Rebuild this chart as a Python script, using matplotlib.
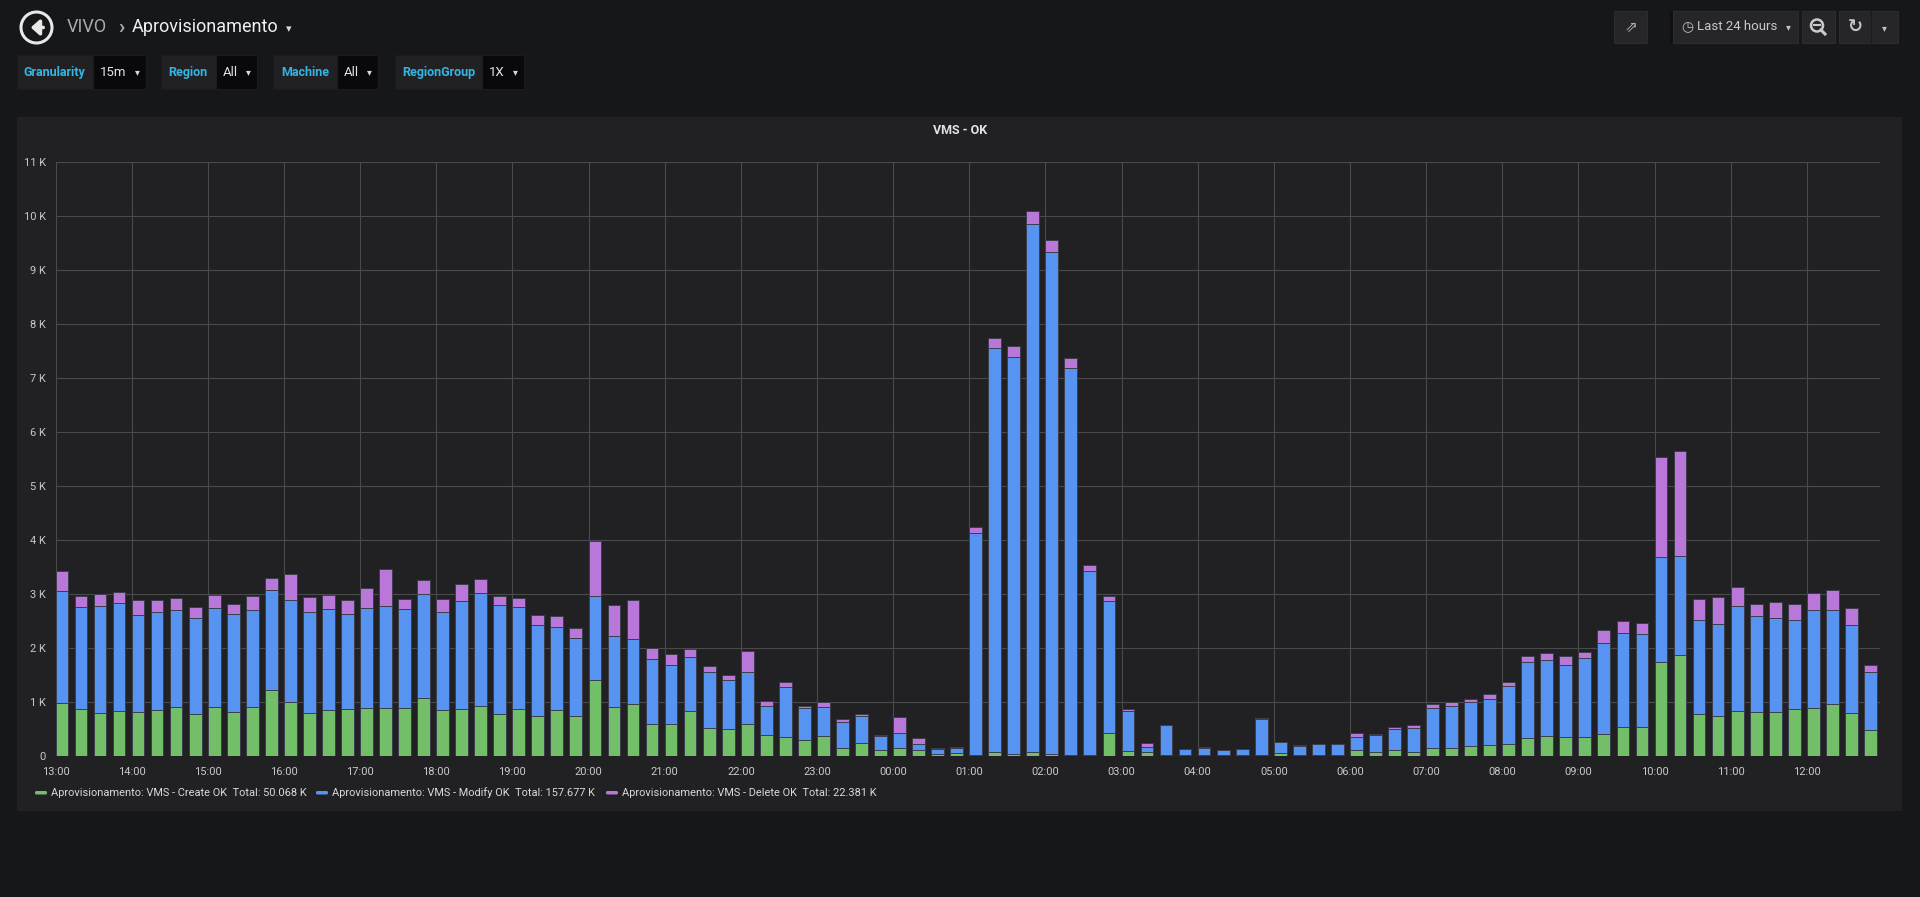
import numpy as np
import matplotlib
matplotlib.use("Agg")
import matplotlib.pyplot as plt
from matplotlib.patches import Rectangle, Circle, FancyBboxPatch

plt.rcParams['font.family'] = ['Roboto', 'DejaVu Sans']

# ---------------- data (values per 15 min bucket) ----------------
hour_labels = ["13:00", "14:00", "15:00", "16:00", "17:00", "18:00", "19:00", "20:00",
               "21:00", "22:00", "23:00", "00:00", "01:00", "02:00", "03:00", "04:00",
               "05:00", "06:00", "07:00", "08:00", "09:00", "10:00", "11:00", "12:00"]

create_ok = [980, 870, 790, 830, 810, 850, 910, 780, 910, 810, 910, 1210,
             990, 790, 850, 860, 880, 880, 890, 1070, 840, 870, 920, 780,
             860, 730, 840, 730, 1400, 910, 950, 590, 590, 830, 510, 490,
             590, 390, 350, 300, 360, 150, 240, 110, 140, 110, 30, 50,
             20, 60, 30, 70, 40, 20, 10, 430, 80, 70, 20, 20,
             20, 20, 10, 20, 50, 20, 20, 20, 110, 60, 110, 70,
             150, 150, 180, 200, 220, 330, 370, 350, 350, 410, 540, 540,
             1740, 1860, 770, 740, 830, 810, 810, 870, 890, 960, 800, 470]

modify_ok = [2080, 1880, 1990, 2000, 1800, 1810, 1790, 1780, 1830, 1820, 1790, 1860,
             1900, 1880, 1870, 1760, 1850, 1890, 1830, 1930, 1820, 2000, 2090, 2010,
             1890, 1690, 1540, 1460, 1560, 1300, 1220, 1200, 1090, 1000, 1050, 920,
             970, 530, 930, 580, 540, 480, 490, 250, 290, 100, 100, 100,
             4110, 7490, 7360, 9780, 9290, 7160, 3420, 2440, 750, 90, 540, 100,
             130, 80, 110, 660, 200, 160, 200, 200, 230, 320, 380, 450,
             740, 780, 810, 850, 1080, 1400, 1410, 1340, 1460, 1680, 1740, 1710,
             1950, 1840, 1750, 1710, 1950, 1780, 1740, 1650, 1810, 1740, 1630, 1080]

delete_ok = [360, 210, 210, 210, 280, 220, 220, 200, 240, 180, 260, 230,
             480, 280, 260, 270, 380, 690, 190, 260, 250, 320, 260, 170,
             180, 190, 210, 180, 1020, 590, 720, 210, 210, 140, 100, 80,
             380, 100, 80, 50, 90, 50, 40, 20, 280, 110, 10, 10,
             110, 200, 210, 250, 230, 190, 110, 90, 30, 70, 10, 10,
             10, 10, 5, 10, 10, 10, 5, 5, 90, 30, 50, 40,
             60, 60, 70, 100, 70, 120, 130, 160, 120, 240, 210, 210,
             1850, 1940, 390, 490, 340, 220, 300, 300, 320, 380, 310, 140]

series_names = ["Aprovisionamento: VMS - Create OK",
                "Aprovisionamento: VMS - Modify OK",
                "Aprovisionamento: VMS - Delete OK"]
series_totals = ["50.068 K", "157.677 K", "22.381 K"]
series_colors = ["#73bf69", "#5794f2", "#b877d9"]

y_ticks = list(range(0, 11001, 1000))

# ---------------- figure ----------------
W, H = 1920, 897
fig = plt.figure(figsize=(W / 100, H / 100), dpi=100, facecolor="#161719")

bg = fig.add_axes([0, 0, 1, 1], zorder=0)
bg.set_xlim(0, W)
bg.set_ylim(H, 0)
bg.axis("off")

# panel
bg.add_patch(Rectangle((17, 117), 1885, 694, facecolor="#212124", edgecolor="none"))
bg.text(960, 130, "VMS - OK", color="#e3e3e3", fontsize=9, fontweight="bold",
        ha="center", va="center")

# header: back button + breadcrumb
bg.add_patch(Circle((36.5, 27.5), 15.5, facecolor="none", edgecolor="#e8e8e8", lw=2.2))
bg.annotate("", xy=(28, 27.5), xytext=(46, 27.5),
            arrowprops=dict(arrowstyle="-|>,head_length=0.5,head_width=0.45",
                            color="#e8e8e8", lw=2.6))
bg.text(67, 27, "VIVO", color="#a8acb2", fontsize=13, ha="left", va="center")
bg.text(118, 27, "›", color="#a8acb2", fontsize=15, ha="left", va="center", fontweight="bold")
bg.text(132, 27, "Aprovisionamento", color="#f0f0f0", fontsize=13, ha="left", va="center")
bg.text(289, 29, "▾", color="#d8d9da", fontsize=8, ha="center", va="center",
        family=["DejaVu Sans"])

# template variables
tvars = [("Granularity", "15m", 16.5, 93, 146),
         ("Region", "All", 161, 215.5, 257),
         ("Machine", "All", 273, 337, 378),
         ("RegionGroup", "1X", 395, 482, 524)]
for lab, val, x0, xs, x1 in tvars:
    bg.add_patch(Rectangle((x0, 55), xs - x0, 34, facecolor="#212124", edgecolor="#1c1c1e", lw=0.8))
    bg.add_patch(Rectangle((xs, 55), x1 - xs, 34, facecolor="#09090b", edgecolor="#1c1c1e", lw=0.8))
    bg.text((x0 + xs) / 2, 72.5, lab, color="#33b5e5", fontsize=9, fontweight="bold",
            ha="center", va="center")
    bg.text(xs + 7, 72.5, val, color="#e3e3e3", fontsize=9.5, ha="left", va="center")
    bg.text(x1 - 9, 72.5, "▾", color="#d8d9da", fontsize=7, ha="center", va="center",
            family=["DejaVu Sans"])

# right-side navbar buttons
btn = "#262628"
bg.add_patch(Rectangle((1614, 11), 33, 32, facecolor=btn, edgecolor="#2c2c2e", lw=0.8))
bg.text(1630.5, 27, "⇗", color="#b0b3b8", fontsize=11, ha="center", va="center",
        family=["DejaVu Sans"])
bg.add_patch(Rectangle((1670, 11), 3, 32, facecolor="#0f1012", edgecolor="none"))
bg.add_patch(Rectangle((1673, 11), 125, 32, facecolor=btn, edgecolor="#2c2c2e", lw=0.8))
bg.text(1681, 27, "◷", color="#c0c3c8", fontsize=10, ha="left", va="center",
        family=["DejaVu Sans"])
bg.text(1697, 27, "Last 24 hours", color="#c8cace", fontsize=9.5, ha="left", va="center")
bg.text(1788, 27.5, "▾", color="#c0c3c8", fontsize=7, ha="center", va="center",
        family=["DejaVu Sans"])
bg.add_patch(Rectangle((1802, 11), 33, 32, facecolor=btn, edgecolor="#2c2c2e", lw=0.8))
bg.add_patch(Circle((1817, 25.5), 6, facecolor="none", edgecolor="#c8cace", lw=1.8))
bg.plot([1814, 1820], [25.5, 25.5], color="#c8cace", lw=1.5)
bg.plot([1821, 1825], [30, 34], color="#c8cace", lw=2.2)
bg.add_patch(Rectangle((1839, 11), 59, 32, facecolor=btn, edgecolor="#2c2c2e", lw=0.8))
bg.plot([1870.5, 1870.5], [11, 43], color="#1c1c1e", lw=1)
bg.text(1855, 27, "↻", color="#c0c3c8", fontsize=13, ha="center", va="center",
        family=["DejaVu Sans"], fontweight="bold")
bg.text(1884, 28, "▾", color="#c0c3c8", fontsize=7, ha="center", va="center",
        family=["DejaVu Sans"])

# legend
leg_items = [(35, 51), (316, 332), (606, 622)]
for (sx, tx), name, tot, col in zip(leg_items, series_names, series_totals, series_colors):
    bg.add_patch(FancyBboxPatch((sx, 791), 12, 3.5, boxstyle="round,pad=0,rounding_size=1.5",
                                facecolor=col, edgecolor="none"))
    bg.text(tx, 793, f"{name}  Total: {tot}", color="#d8d9da", fontsize=7.9,
            ha="left", va="center")

# ---------------- chart axes ----------------
L, R, T, B = 55.5, 1880, 162.3, 755.7
ax = fig.add_axes([L / W, 1 - B / H, (R - L) / W, (B - T) / H], zorder=1)
ax.set_facecolor("#212124")

n = len(create_ok)
x = np.arange(n)
c = np.array(create_ok)
m = np.array(modify_ok)
d = np.array(delete_ok)
edge = "#3b3e4c"
bw = 0.67
ax.bar(x, c, width=bw, align="edge", color=series_colors[0], edgecolor=edge, lw=0.7, zorder=3)
ax.bar(x, m, width=bw, bottom=c, align="edge", color=series_colors[1], edgecolor=edge, lw=0.7, zorder=3)
ax.bar(x, d, width=bw, bottom=c + m, align="edge", color=series_colors[2], edgecolor=edge, lw=0.7, zorder=3)

ax.set_xlim(0, 95.84)
ax.set_ylim(0, 11000)
ax.set_xticks(np.arange(0, n, 4))
ax.set_xticklabels(hour_labels)
ax.set_yticks(y_ticks)
ax.set_yticklabels(["0"] + [f"{v // 1000} K" for v in y_ticks[1:]])
ax.grid(True, color="#4a4a4c", lw=0.8, zorder=0)
ax.tick_params(axis="both", length=0, colors="#c8c9ca", labelsize=8)
ax.tick_params(axis="x", pad=8)
ax.tick_params(axis="y", pad=7)
for s in ax.spines.values():
    s.set_visible(False)

fig.savefig("out.png", dpi=100, facecolor=fig.get_facecolor())
